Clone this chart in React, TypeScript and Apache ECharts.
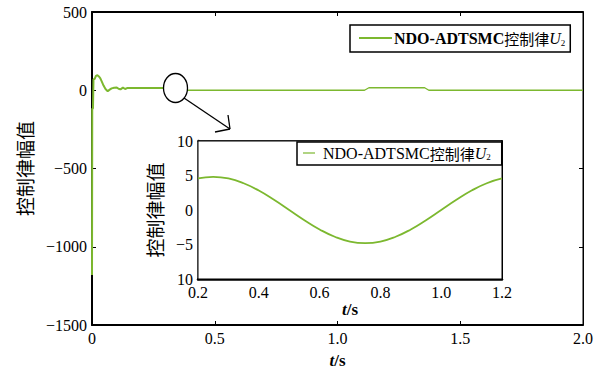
import React, { useEffect, useRef } from "react";
import * as echarts from "echarts";

// ---- data ----
const SERIES_NAME = "NDO-ADTSMC控制律U2";

// main plot: transient part (drawn thicker)
const headT = [0, 0.001, 0.004, 0.006, 0.011, 0.016, 0.022, 0.028, 0.034, 0.04, 0.047, 0.055, 0.064, 0.072, 0.08, 0.09, 0.101, 0.11, 0.116, 0.126, 0.135, 0.145, 0.2, 0.25, 0.3, 0.35];
const headV = [-1180, -120, -115, 70, 72, 92, 96, 88, 76, 55, 30, 8, -6, 4, 12, 16, 17, 8, 6, 17, 8, 15, 14, 14, 14, 14];

// main plot: tail part
const tailT = [0.36, 1.11, 1.128, 1.355, 1.372, 2.0];
const tailV = [0, 0, 16, 16, 0, 0];

// inset: zoomed control law
const insetT = [0.2, 0.25, 0.3, 0.35, 0.4, 0.45, 0.5, 0.55, 0.6, 0.65, 0.7, 0.75, 0.8, 0.85, 0.9, 0.95, 1.0, 1.05, 1.1, 1.15, 1.2];
const insetV = [4.57, 4.8, 4.57, 3.88, 2.82, 1.48, 0, -1.48, -2.82, -3.88, -4.57, -4.8, -4.57, -3.88, -2.82, -1.48, 0, 1.48, 2.82, 3.88, 4.57];

const mainXTicks = { min: 0, max: 2, interval: 0.5 };
const mainYTicks = { min: -1500, max: 500, interval: 500 };
const insetXTicks = { min: 0.2, max: 1.2, interval: 0.2 };
const insetYTicks = { min: -10, max: 10, interval: 5 };

const GREEN = "#7cb82f";
const SERIF = "'Liberation Serif', 'Times New Roman', serif";
const CJK = "'Noto Sans CJK SC', sans-serif";

const zip = (a: number[], b: number[]) => a.map((x, i) => [x, b[i]]);

const fmtY = (v: number) => (v < 0 ? "\u2212" + Math.abs(v) : String(v));

export default function App() {
  const ref = useRef<HTMLDivElement>(null);
  useEffect(() => {
    if (!ref.current) return;
    const chart = echarts.init(ref.current, undefined, { renderer: "svg" });
    const labelStyle = { color: "#000", fontFamily: SERIF, fontSize: 16 };
    const nameStyleY = { color: "#000", fontFamily: CJK, fontSize: 19 };
    const nameStyleX = {
      color: "#000",
      fontFamily: SERIF,
      fontSize: 17,
      fontWeight: "bold",
      rich: { i: { fontFamily: SERIF, fontSize: 17, fontStyle: "italic", fontWeight: "bold", color: "#000" }, n: { fontFamily: SERIF, fontSize: 17, fontWeight: "bold", color: "#000" } },
    };
    const legendRich = (bold: boolean, size: number) => ({
      a: { fontFamily: SERIF, fontSize: size, fontWeight: bold ? "bold" : "normal", color: "#000", lineHeight: 18 },
      c: { fontFamily: CJK, fontSize: size - 1, fontWeight: "normal", color: "#000", lineHeight: 18 },
      u: { fontFamily: SERIF, fontSize: size, fontStyle: "italic", color: "#000", lineHeight: 18 },
      s: { fontFamily: SERIF, fontSize: 9, color: "#000", verticalAlign: "bottom", lineHeight: 18 },
    });
    const legendFmt = () => "{a|NDO-ADTSMC}{c|控制律}{u|U}{s|2}";

    chart.setOption({
      animation: false,
      backgroundColor: "#fff",
      grid: [
        { left: 92, right: 17, top: 12, bottom: 45, show: true, borderColor: "#000", borderWidth: 1, backgroundColor: "#fff" },
        { left: 198, right: 98, top: 141, bottom: 95, show: true, borderColor: "#000", borderWidth: 1, backgroundColor: "#fff", z: 5 },
      ],
      legend: [
        {
          data: [SERIES_NAME],
          left: 350,
          top: 25,
          padding: [5, 5, 5, 9],
          borderColor: "#000",
          borderWidth: 1.5,
          backgroundColor: "#fff",
          icon: "rect",
          itemWidth: 33,
          itemHeight: 2,
          itemGap: 0,
          selectedMode: false,
          formatter: legendFmt,
          textStyle: { rich: legendRich(true, 16), padding: [0, 0, 0, -3] },
        },
        {
          data: [SERIES_NAME],
          left: 297,
          top: 142,
          padding: [3, 11, 3, 6],
          borderColor: "#000",
          borderWidth: 1.5,
          backgroundColor: "#fff",
          icon: "rect",
          itemWidth: 12,
          itemHeight: 1.2,
          itemGap: 0,
          selectedMode: false,
          formatter: legendFmt,
          z: 10,
          textStyle: { rich: legendRich(false, 16), padding: [0, 0, 0, 3] },
        },
      ],
      xAxis: [
        {
          type: "value", gridIndex: 0, ...mainXTicks, position: "bottom",
          axisLine: { show: true, onZero: false, lineStyle: { color: "#000", width: 2 } },
          axisTick: { show: true, inside: true, length: 4, lineStyle: { color: "#000" } },
          axisLabel: { ...labelStyle, margin: 5, formatter: (v: number) => (v === 0 ? "0" : v.toFixed(1)) },
          splitLine: { show: false },
          name: "{i|t}{n|/s}", nameLocation: "middle", nameGap: 27, nameTextStyle: nameStyleX,
        },
        {
          type: "value", gridIndex: 0, ...mainXTicks, position: "top",
          axisLine: { show: true, onZero: false, lineStyle: { color: "#000", width: 2 } },
          axisTick: { show: true, inside: true, length: 4, lineStyle: { color: "#000" } },
          axisLabel: { show: false }, splitLine: { show: false },
        },
        {
          type: "value", gridIndex: 1, ...insetXTicks, position: "bottom",
          axisLine: { show: true, onZero: false, lineStyle: { color: "#000", width: 2.5 } },
          axisTick: { show: true, inside: true, length: 3, lineStyle: { color: "#000" } },
          axisLabel: { ...labelStyle, margin: 5, formatter: (v: number) => v.toFixed(1) },
          splitLine: { show: false },
          name: "{i|t}{n|/s}", nameLocation: "middle", nameGap: 20, nameTextStyle: nameStyleX,
        },
        {
          type: "value", gridIndex: 1, ...insetXTicks, position: "top",
          axisLine: { show: true, onZero: false, lineStyle: { color: "#000", width: 1.5 } },
          axisTick: { show: true, inside: true, length: 3, lineStyle: { color: "#000" } },
          axisLabel: { show: false }, splitLine: { show: false },
        },
      ],
      yAxis: [
        {
          type: "value", gridIndex: 0, ...mainYTicks, position: "left",
          axisLine: { show: true, onZero: false, lineStyle: { color: "#000", width: 2 } },
          axisTick: { show: true, inside: true, length: 4, lineStyle: { color: "#000" } },
          axisLabel: { ...labelStyle, margin: 5, formatter: fmtY },
          splitLine: { show: false },
          name: "控制律幅值", nameLocation: "middle", nameRotate: 90, nameGap: 58, nameTextStyle: nameStyleY,
        },
        {
          type: "value", gridIndex: 0, ...mainYTicks, position: "right",
          axisLine: { show: true, onZero: false, lineStyle: { color: "#000", width: 1 } },
          axisTick: { show: true, inside: true, length: 4, lineStyle: { color: "#000" } },
          axisLabel: { show: false }, splitLine: { show: false },
        },
        {
          type: "value", gridIndex: 1, ...insetYTicks, position: "left",
          axisLine: { show: true, onZero: false, lineStyle: { color: "#808080", width: 3 } },
          axisTick: { show: true, inside: true, length: 3, lineStyle: { color: "#000" } },
          axisLabel: { ...labelStyle, margin: 5, formatter: (v: number) => (v === -10 ? "10" : fmtY(v)) },
          splitLine: { show: false },
          name: "控制律幅值", nameLocation: "middle", nameRotate: 90, nameGap: 34, nameTextStyle: nameStyleY,
        },
        {
          type: "value", gridIndex: 1, ...insetYTicks, position: "right",
          axisLine: { show: true, onZero: false, lineStyle: { color: "#000", width: 2 } },
          axisTick: { show: true, inside: true, length: 3, lineStyle: { color: "#000" } },
          axisLabel: { show: false }, splitLine: { show: false },
        },
      ],
      series: [
        {
          name: SERIES_NAME, type: "line", xAxisIndex: 0, yAxisIndex: 0, data: zip(headT, headV),
          showSymbol: false, clip: false, lineStyle: { color: GREEN, width: 2 }, itemStyle: { color: GREEN },
        },
        {
          name: SERIES_NAME, type: "line", xAxisIndex: 0, yAxisIndex: 0, data: zip(tailT, tailV),
          showSymbol: false, lineStyle: { color: GREEN, width: 1.3 }, itemStyle: { color: GREEN },
        },
        {
          name: SERIES_NAME, type: "line", xAxisIndex: 2, yAxisIndex: 2, data: zip(insetT, insetV),
          showSymbol: false, smooth: true, z: 6, lineStyle: { color: GREEN, width: 1.8 }, itemStyle: { color: GREEN },
        },
      ],
      graphic: [
        { type: "ellipse", z: 50, shape: { cx: 175.5, cy: 88, rx: 12, ry: 14.5 }, style: { fill: "#fff", stroke: "#000", lineWidth: 1.3 } },
        { type: "line", z: 50, shape: { x1: 184, y1: 98, x2: 230, y2: 129 }, style: { stroke: "#000", lineWidth: 1.3 } },
        { type: "line", z: 50, shape: { x1: 230, y1: 129, x2: 228, y2: 115 }, style: { stroke: "#000", lineWidth: 1.3 } },
        { type: "line", z: 50, shape: { x1: 230, y1: 129, x2: 215, y2: 132 }, style: { stroke: "#000", lineWidth: 1.3 } },
      ],
    });
    return () => chart.dispose();
  }, []);
  return <div ref={ref} style={{ position: "fixed", left: 0, top: 0, width: 600, height: 374 }} />;
}
